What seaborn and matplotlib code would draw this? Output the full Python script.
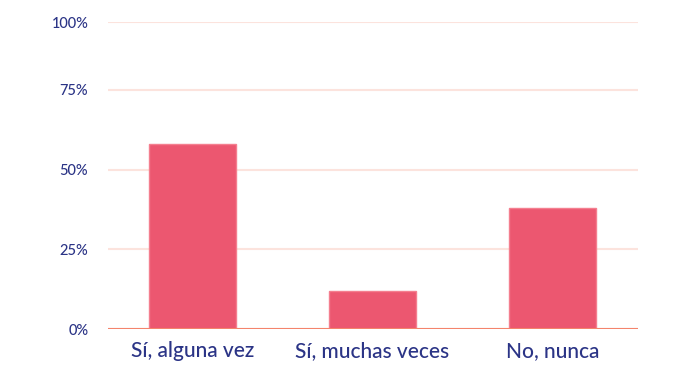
import matplotlib
matplotlib.use('Agg')
import matplotlib.pyplot as plt
import seaborn as sns
import pandas as pd

# Data
categories = ['Sí, alguna vez', 'Sí, muchas veces', 'No, nunca']
values = [58, 12, 38]
tick_values = [0, 25, 50, 75, 96.1]
tick_labels = ['0%', '25%', '50%', '75%', '100%']

df = pd.DataFrame({'respuesta': categories, 'pct': values})

sns.set_style('white')
plt.rcParams['font.family'] = ['Lato', 'DejaVu Sans']

text_color = '#2B3486'
bar_color = '#EC5770'

fig = plt.figure(figsize=(7, 3.65), dpi=100)
ax = fig.add_axes([0.1539, 0.0973, 0.757, 0.8424])

sns.barplot(data=df, x='respuesta', y='pct', color=bar_color, width=0.487,
            saturation=1, edgecolor='#F47F8F', linewidth=1, ax=ax, zorder=3)

ax.set_xlim(-0.471, 2.473)
ax.set_ylim(0, 96.1)
ax.set_yticks(tick_values)
ax.set_yticklabels(tick_labels)
ax.grid(axis='y', color='#FCE3DD', linewidth=1.5, zorder=0)
ax.grid(axis='x', visible=False)
ax.axhline(0, color='#F4846C', linewidth=1.5, zorder=4)

for s in ax.spines.values():
    s.set_visible(False)

ax.tick_params(axis='y', length=0, pad=14, labelsize=10.5, labelcolor=text_color)
ax.tick_params(axis='x', length=0, pad=8, labelsize=15, labelcolor=text_color)
for lbl in ax.get_yticklabels() + ax.get_xticklabels():
    lbl.set_fontweight('medium')
ax.set_xlabel('')
ax.set_ylabel('')

fig.savefig('out.png', dpi=100)
